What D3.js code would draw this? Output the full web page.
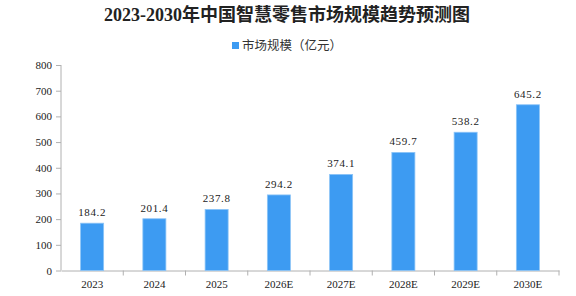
<!DOCTYPE html>
<html><head><meta charset="utf-8">
<script src="https://cdn.jsdelivr.net/npm/d3@7"></script>
<style>body{margin:0;background:#fff}svg{display:block}</style>
</head><body>
<svg id="c" width="576" height="296"></svg>
<script>
const title = "2023-2030年中国智慧零售市场规模趋势预测图";
const seriesName = "市场规模（亿元）";
const categories = ["2023","2024","2025","2026E","2027E","2028E","2029E","2030E"];
const values = [184.2,201.4,237.8,294.2,374.1,459.7,538.2,645.2];
const yTicks = [0,100,200,300,400,500,600,700,800];

const svg = d3.select("#c");
const m = {l:61, r:17, t:65, b:26};
const W = 576, H = 296;
const x = d3.scaleBand().domain(categories).range([m.l, W - m.r]).paddingInner(0.63).paddingOuter(0.315);
const y = d3.scaleLinear().domain([0,800]).range([270.5, 65]);
const serif = "'Liberation Serif','Noto Sans CJK SC',serif";
const cjk = "'Noto Sans CJK SC','Noto Sans',sans-serif";
const num = "'Liberation Serif','DejaVu Serif',serif";

svg.append("text").attr("x",287).attr("y",21).attr("text-anchor","middle")
  .attr("font-family",serif).attr("font-weight","bold").attr("font-size",18).attr("fill","#222")
  .text(title);

const lg = svg.append("g");
lg.append("rect").attr("x",232).attr("y",42).attr("width",7).attr("height",7).attr("fill","#3d9bf2");
lg.append("text").attr("x",242).attr("y",50).attr("font-family",cjk).attr("font-size",12.5).attr("fill","#333").text(seriesName);

// y axis
const ya = svg.append("g").attr("transform",`translate(${m.l},0)`)
  .call(d3.axisLeft(y).tickValues(yTicks).tickSize(5).tickPadding(4).tickFormat(d3.format("d")));
ya.select(".domain").attr("stroke","#b0b0b0").attr("d",`M0,${y(800)}V${y(0)}`);
ya.selectAll(".tick line").attr("stroke","#b0b0b0");
ya.selectAll(".tick text").attr("font-family",num).attr("font-size",11).attr("fill","#222");

// x axis
const xa = svg.append("g").attr("transform",`translate(0,${y(0)})`)
  .call(d3.axisBottom(x).tickSize(0).tickPadding(10));
xa.select(".domain").attr("stroke","#b0b0b0");
xa.selectAll(".tick text").attr("font-family",num).attr("font-size",11).attr("fill","#222");
const step = x.step();
xa.selectAll(".bnd").data(categories).enter().append("line")
  .attr("x1",d=>x(d)-x.paddingOuter()*step+step).attr("x2",d=>x(d)-x.paddingOuter()*step+step)
  .attr("y1",0).attr("y2",5).attr("stroke","#b0b0b0");

// bars
svg.append("g").selectAll("rect").data(values).enter().append("rect")
  .attr("x",(d,i)=>x(categories[i])).attr("width",x.bandwidth())
  .attr("y",d=>y(d)).attr("height",d=>y(0)-y(d))
  .attr("fill","#3d9bf2").attr("stroke","#8cc4f7").attr("stroke-width",0.8);

svg.append("g").selectAll("text").data(values).enter().append("text")
  .attr("x",(d,i)=>x(categories[i])+x.bandwidth()/2).attr("y",d=>y(d)-7)
  .attr("text-anchor","middle").attr("font-family",num).attr("font-size",11).attr("fill","#222")
  .attr("letter-spacing",0.6)
  .text(d=>d.toFixed(1));
</script>
</body></html>
